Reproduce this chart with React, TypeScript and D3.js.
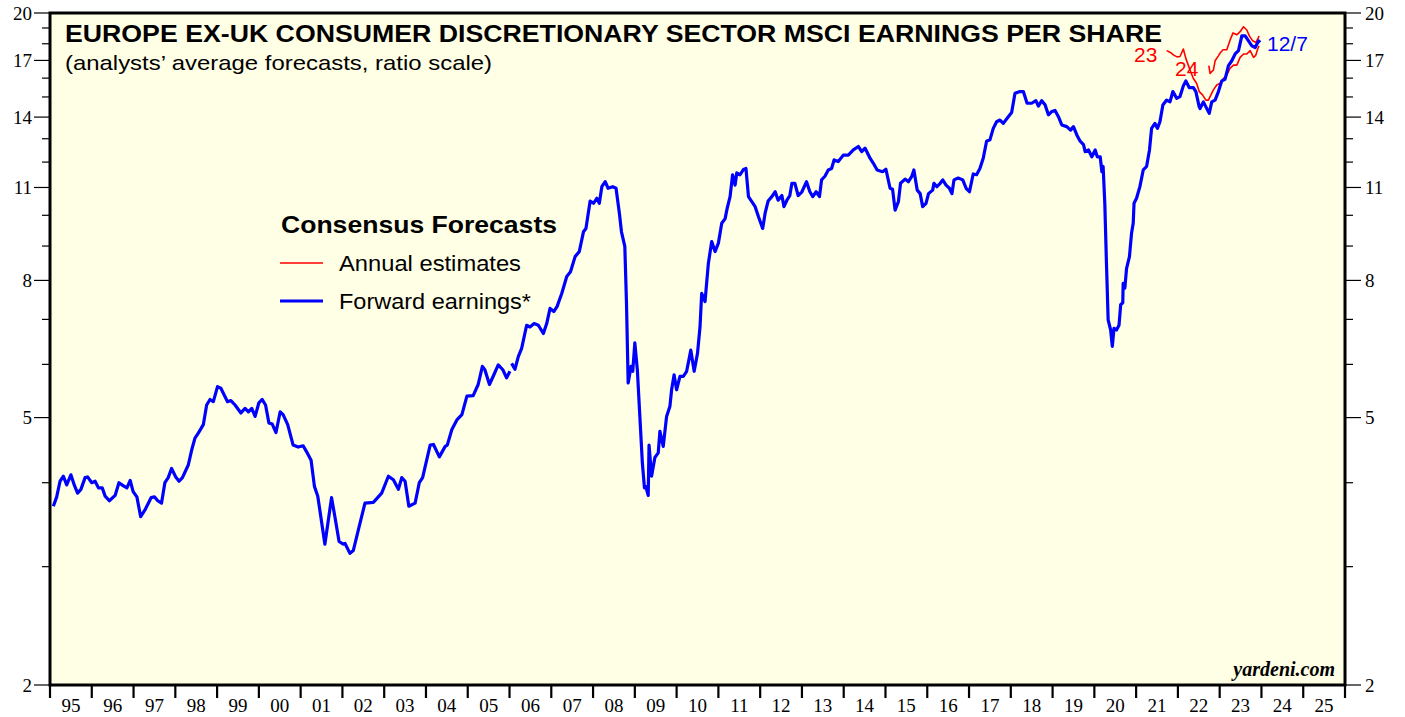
import React from "react";
import * as d3 from "d3";

// ---------- DATA ----------
const yearLabels = ["95","96","97","98","99","00","01","02","03","04","05","06","07","08","09","10","11","12","13","14","15","16","17","18","19","20","21","22","23","24","25"];
const yMajorTicks = [2, 5, 8, 11, 14, 17, 20];
const yMinorTicks = [3, 4, 6, 7, 9, 10, 12, 13, 15, 16, 18, 19];

// Forward earnings (decimal year, EPS). NaN marks a gap in the series.
const forward1995_2001: [number, number][] = [
  [1995.08,3.69],[1995.16,3.81],[1995.24,4.02],[1995.32,4.09],[1995.40,3.97],[1995.50,4.11],[1995.58,3.97],[1995.66,3.86],[1995.74,3.91],[1995.84,4.07],[1995.90,4.08],
  [1996.00,4.00],[1996.08,4.02],[1996.16,3.93],[1996.25,3.93],[1996.32,3.82],[1996.42,3.76],[1996.56,3.83],[1996.65,4.00],[1996.75,3.96],[1996.84,3.93],[1996.92,4.03],[1996.99,3.88],
  [1997.08,3.81],[1997.17,3.56],[1997.27,3.64],[1997.42,3.80],[1997.50,3.81],[1997.58,3.76],[1997.67,3.73],[1997.75,4.00],[1997.83,4.07],[1997.91,4.20],
  [1998.01,4.08],[1998.09,4.02],[1998.17,4.07],[1998.31,4.25],[1998.39,4.47],[1998.47,4.66],[1998.55,4.74],[1998.67,4.88],[1998.75,5.22],[1998.83,5.32],[1998.91,5.28],
  [1999.01,5.56],[1999.09,5.53],[1999.25,5.28],[1999.33,5.30],[1999.43,5.22],[1999.57,5.08],[1999.67,5.16],[1999.75,5.10],[1999.83,5.16],[1999.91,5.02],
  [2000.00,5.26],[2000.08,5.32],[2000.16,5.22],[2000.24,4.91],[2000.32,4.89],[2000.41,4.75],[2000.51,5.10],[2000.58,5.05],[2000.69,4.88],[2000.82,4.55],[2000.94,4.52],
  [2001.06,4.54],[2001.14,4.45],[2001.25,4.32],[2001.33,3.95],[2001.41,3.82],[2001.58,3.24],[2001.74,3.80],[2001.82,3.56],[2001.92,3.27],
];
const forward2002_2008: [number, number][] = [
  [2002.02,3.24],[2002.06,3.25],[2002.18,3.14],[2002.26,3.17],[2002.38,3.40],[2002.54,3.73],[2002.74,3.74],[2002.94,3.86],
  [2003.10,4.09],[2003.22,4.04],[2003.34,3.91],[2003.42,4.07],[2003.50,4.02],[2003.59,3.69],[2003.74,3.73],[2003.84,4.00],[2003.92,4.07],
  [2004.10,4.55],[2004.18,4.56],[2004.32,4.37],[2004.46,4.53],[2004.51,4.55],[2004.62,4.80],[2004.74,4.96],[2004.86,5.05],[2004.98,5.38],
  [2005.13,5.39],[2005.25,5.60],[2005.35,5.96],[2005.41,5.89],[2005.52,5.60],[2005.61,5.76],[2005.73,5.99],[2005.84,5.89],[2005.93,5.73],[2006.01,5.86],
  [2006.03,NaN],
  [2006.05,6.02],[2006.13,5.90],[2006.21,6.16],[2006.29,6.34],[2006.41,6.86],[2006.49,6.82],[2006.59,6.90],[2006.69,6.86],[2006.81,6.67],[2006.89,6.90],[2006.97,7.27],
  [2007.06,7.19],[2007.14,7.32],[2007.25,7.65],[2007.37,8.11],[2007.46,8.24],[2007.57,8.68],[2007.67,8.83],[2007.77,9.45],[2007.83,9.56],[2007.93,10.50],
  [2008.01,10.42],[2008.09,10.60],[2008.15,10.42],[2008.21,11.03],[2008.29,11.22],[2008.36,10.97],[2008.47,11.03],[2008.55,10.97],[2008.63,10.07],[2008.68,9.45],[2008.76,8.99],[2008.80,7.41],[2008.84,5.63],[2008.91,5.96],[2008.95,5.86],
];
const forward2009_2015: [number, number][] = [
  [2009.00,6.46],[2009.06,5.89],[2009.12,5.02],[2009.18,4.28],[2009.23,3.93],[2009.26,3.95],[2009.32,3.83],[2009.34,4.55],[2009.40,4.09],[2009.48,4.36],[2009.56,4.43],[2009.60,4.77],[2009.68,4.53],[2009.76,5.02],[2009.84,5.20],[2009.88,5.50],[2009.94,5.79],
  [2010.00,5.50],[2010.08,5.76],[2010.16,5.76],[2010.24,5.86],[2010.34,6.30],[2010.42,5.86],[2010.50,6.23],[2010.56,6.82],[2010.60,7.65],[2010.68,7.44],[2010.76,8.48],[2010.84,9.14],[2010.92,8.83],
  [2011.00,9.09],[2011.08,9.73],[2011.16,9.88],[2011.21,10.24],[2011.28,10.66],[2011.34,11.49],[2011.40,11.09],[2011.44,11.56],[2011.52,11.49],[2011.60,11.70],[2011.66,11.74],[2011.72,10.66],[2011.80,10.48],[2011.88,10.30],[2011.96,9.95],
  [2012.06,9.56],[2012.12,10.08],[2012.19,10.50],[2012.28,10.66],[2012.36,10.84],[2012.43,10.53],[2012.52,10.70],[2012.57,10.30],[2012.64,10.53],[2012.71,10.70],[2012.76,11.16],[2012.83,11.16],[2012.91,10.70],
  [2013.00,10.84],[2013.11,11.22],[2013.19,10.84],[2013.26,10.66],[2013.34,10.84],[2013.42,10.66],[2013.47,11.29],[2013.55,11.43],[2013.63,11.68],[2013.71,11.74],[2013.77,12.09],[2013.87,12.02],[2013.99,12.29],
  [2014.11,12.29],[2014.23,12.51],[2014.35,12.66],[2014.43,12.44],[2014.51,12.59],[2014.63,12.16],[2014.71,11.95],[2014.80,11.68],[2014.93,11.61],
  [2015.01,11.71],[2015.11,10.97],[2015.17,10.93],[2015.23,10.18],[2015.31,10.48],[2015.36,11.16],[2015.47,11.32],[2015.55,11.22],[2015.63,11.43],[2015.68,11.68],[2015.76,10.90],[2015.83,10.77],[2015.89,10.30],[2015.97,10.42],
];
const forward2016_2023: [number, number][] = [
  [2016.03,10.77],[2016.13,10.90],[2016.16,11.16],[2016.23,11.03],[2016.31,11.16],[2016.37,11.29],[2016.45,11.09],[2016.53,10.97],[2016.59,10.77],[2016.64,11.29],[2016.74,11.36],[2016.85,11.29],[2016.93,10.97],
  [2017.01,10.84],[2017.10,11.52],[2017.18,11.49],[2017.26,11.74],[2017.34,12.16],[2017.42,12.89],[2017.50,12.95],[2017.58,13.47],[2017.66,13.78],[2017.74,13.86],[2017.82,13.70],[2017.94,14.02],
  [2018.02,14.22],[2018.10,15.19],[2018.22,15.28],[2018.30,15.28],[2018.39,14.68],[2018.50,14.68],[2018.60,14.81],[2018.66,14.54],[2018.74,14.81],[2018.82,14.60],[2018.90,14.11],[2018.98,14.27],
  [2019.06,14.32],[2019.14,14.02],[2019.22,13.63],[2019.34,13.55],[2019.43,13.39],[2019.50,13.55],[2019.58,13.17],[2019.66,12.89],[2019.74,12.74],[2019.78,12.44],[2019.86,12.51],[2019.94,12.22],
  [2020.02,12.51],[2020.07,12.22],[2020.14,12.22],[2020.18,11.61],[2020.21,11.82],[2020.25,10.42],[2020.29,8.48],[2020.33,6.99],[2020.39,6.75],[2020.43,6.38],[2020.47,6.79],[2020.53,6.75],[2020.59,6.86],[2020.63,7.36],[2020.68,7.41],[2020.69,7.92],[2020.73,7.79],[2020.77,8.33],[2020.84,8.68],[2020.89,9.40],[2020.93,9.73],[2020.95,10.42],
  [2021.01,10.60],[2021.09,11.03],[2021.17,11.68],[2021.25,11.82],[2021.32,12.51],[2021.37,13.47],[2021.45,13.70],[2021.51,13.47],[2021.57,13.78],[2021.64,14.59],[2021.73,14.84],[2021.81,14.75],[2021.88,15.28],[2021.97,14.93],
  [2022.05,15.02],[2022.13,15.58],[2022.19,15.85],[2022.27,15.49],[2022.37,15.49],[2022.43,15.28],[2022.51,14.50],[2022.53,14.42],[2022.61,14.75],[2022.67,14.50],[2022.75,14.18],[2022.81,14.75],[2022.89,14.84],[2022.97,15.28],
  [2023.05,15.85],[2023.13,15.94],[2023.21,16.70],[2023.29,16.98],[2023.37,17.38],[2023.45,17.58],[2023.53,18.49],[2023.61,18.49],[2023.69,18.18],[2023.77,17.87],[2023.85,17.77],[2023.93,18.18],[2023.97,18.08],
];

// Annual estimates for 2023 and 2024
const estimates2023: [number, number][] = [
  [2021.73,17.58],[2021.82,17.47],[2021.90,17.31],[2021.98,17.21],[2022.05,17.23],[2022.13,17.68],[2022.19,17.12],[2022.29,16.45],[2022.37,15.98],[2022.45,15.71],[2022.51,15.28],[2022.59,15.11],[2022.67,14.84],[2022.73,14.84],[2022.77,15.02],[2022.85,15.37],[2022.93,15.63],
  [2023.01,15.72],[2023.09,15.98],[2023.17,16.17],[2023.25,16.55],[2023.33,16.73],[2023.41,16.73],[2023.49,17.18],[2023.57,17.38],[2023.65,17.38],[2023.73,17.58],[2023.81,17.18],[2023.86,17.28],[2023.91,17.68],[2023.94,17.87],
];
const estimates2024: [number, number][] = [
  [2022.74,16.70],[2022.77,16.26],[2022.85,16.45],[2022.89,16.98],[2022.97,17.27],[2023.01,17.44],[2023.08,17.63],[2023.17,17.63],[2023.25,18.24],[2023.32,18.68],[2023.41,18.56],[2023.49,18.76],[2023.57,19.08],[2023.65,18.87],[2023.71,18.49],[2023.79,18.18],[2023.87,18.08],[2023.93,18.40],[2023.94,18.49],
];

const forwardEarnings = [...forward1995_2001, ...forward2002_2008, ...forward2009_2015, ...forward2016_2023];

// ---------- CHART ----------
const W = 1405, H = 717;
const L = 50, R = 1345, T = 13, B = 685;
const SANS = "'Liberation Sans', Arial, sans-serif";
const SERIF = "'Liberation Serif', 'Times New Roman', serif";

export default function App() {
  const x = d3.scaleLinear().domain([1995, 2026]).range([L, R]);
  const y = d3.scaleLog().domain([2, 20]).range([B, T]);
  const line = d3.line<[number, number]>()
    .defined(d => !isNaN(d[1]))
    .x(d => x(d[0]))
    .y(d => y(d[1]));

  const years = d3.range(1995, 2027);

  return (
    <svg width={W} height={H} style={{ position: "absolute", left: 0, top: 0 }} xmlns="http://www.w3.org/2000/svg">
      <rect x={0} y={0} width={W} height={H} fill="#ffffff" />
      <rect x={L} y={T} width={R - L} height={B - T} fill="#FFFFE5" />

      {/* Y ticks left and right */}
      {yMajorTicks.map(v => (
        <g key={"M" + v}>
          <line x1={L - 16} x2={L} y1={y(v)} y2={y(v)} stroke="#000" strokeWidth={1.2} />
          <line x1={R} x2={R + 16} y1={y(v)} y2={y(v)} stroke="#000" strokeWidth={1.2} />
          <text x={L - 18} y={y(v)} dy="0.35em" textAnchor="end" fontFamily={SERIF} fontSize={19} fill="#000">{v}</text>
          <text x={R + 20} y={y(v)} dy="0.35em" textAnchor="start" fontFamily={SERIF} fontSize={19} fill="#000">{v}</text>
        </g>
      ))}
      {yMinorTicks.map(v => (
        <g key={"m" + v}>
          <line x1={L - 8} x2={L} y1={y(v)} y2={y(v)} stroke="#000" strokeWidth={1.2} />
          <line x1={R} x2={R + 8} y1={y(v)} y2={y(v)} stroke="#000" strokeWidth={1.2} />
        </g>
      ))}

      {/* X ticks and labels */}
      {years.map(yr => (
        <line key={"xt" + yr} x1={x(yr)} x2={x(yr)} y1={B} y2={B + 13} stroke="#000" strokeWidth={2.2} />
      ))}
      {yearLabels.map((lab, i) => (
        <text key={"xl" + lab + i} x={x(1995 + i + 0.5)} y={712} textAnchor="middle" fontFamily={SERIF} fontSize={19} fill="#000">{lab}</text>
      ))}

      {/* Series */}
      <path d={line(estimates2023) || ""} fill="none" stroke="#FF0000" strokeWidth={1.6} strokeLinejoin="round" />
      <path d={line(estimates2024) || ""} fill="none" stroke="#FF0000" strokeWidth={1.6} strokeLinejoin="round" />
      <path d={line(forwardEarnings) || ""} fill="none" stroke="#0000FF" strokeWidth={3.2} strokeLinejoin="round" />

      {/* Frame */}
      <rect x={L} y={T} width={R - L} height={B - T} fill="none" stroke="#000" strokeWidth={3} />

      {/* Titles */}
      <text x={65} y={42} fontFamily={SANS} fontWeight="bold" fontSize={23} textLength={1097} lengthAdjust="spacingAndGlyphs" fill="#000">EUROPE EX-UK CONSUMER DISCRETIONARY SECTOR MSCI EARNINGS PER SHARE</text>
      <text x={65} y={70} fontFamily={SANS} fontSize={21} textLength={427} lengthAdjust="spacingAndGlyphs" fill="#000">(analysts’ average forecasts, ratio scale)</text>

      {/* Legend */}
      <text x={281} y={233} fontFamily={SANS} fontWeight="bold" fontSize={24} textLength={276} lengthAdjust="spacingAndGlyphs" fill="#000">Consensus Forecasts</text>
      <line x1={280} x2={323} y1={263} y2={263} stroke="#FF0000" strokeWidth={1.6} />
      <text x={339} y={271} fontFamily={SANS} fontSize={22.5} textLength={182} lengthAdjust="spacingAndGlyphs" fill="#000">Annual estimates</text>
      <line x1={280} x2={323} y1={301} y2={301} stroke="#0000FF" strokeWidth={3} />
      <text x={339} y={309} fontFamily={SANS} fontSize={22.5} textLength={192} lengthAdjust="spacingAndGlyphs" fill="#000">Forward earnings*</text>

      {/* Annotations */}
      <text x={1134} y={62} fontFamily={SANS} fontSize={21} fill="#FF0000">23</text>
      <text x={1175} y={76} fontFamily={SANS} fontSize={21} fill="#FF0000">24</text>
      <text x={1267} y={51} fontFamily={SANS} fontSize={21} fill="#0000FF">12/7</text>
      <text x={1335} y={676} textAnchor="end" fontFamily={SERIF} fontWeight="bold" fontStyle="italic" fontSize={20} fill="#000">yardeni.com</text>
    </svg>
  );
}
